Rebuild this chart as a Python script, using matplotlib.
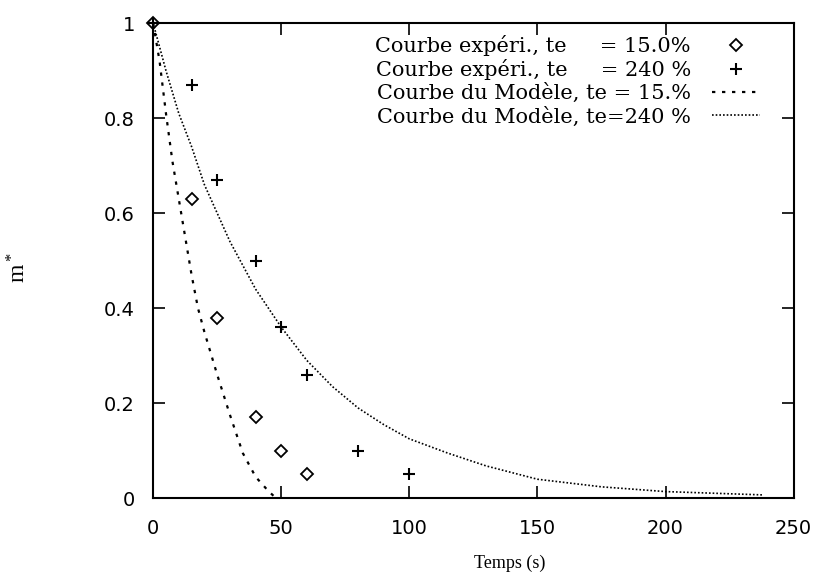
import matplotlib
matplotlib.use("Agg")
import matplotlib.pyplot as plt

t_exp_15 = [0, 15, 25, 40, 50, 60]
m_exp_15 = [1.0, 0.63, 0.38, 0.17, 0.10, 0.05]
t_exp_240 = [0, 15, 25, 40, 50, 60, 80, 100]
m_exp_240 = [1.0, 0.87, 0.67, 0.50, 0.36, 0.26, 0.10, 0.05]

# model curves, sampled by eye along the dotted traces
t_mod_15 = [0, 2.5, 5, 7.5, 10, 12.5, 15, 17.5, 20, 25, 30, 35, 40, 45, 48]
m_mod_15 = [1.0, 0.92, 0.81, 0.71, 0.63, 0.55, 0.47, 0.40, 0.35, 0.26, 0.175, 0.095, 0.045, 0.015, 0.0]
t_mod_240 = [0, 5, 10, 15, 20, 25, 30, 35, 40, 45, 50, 60, 70, 80, 90, 100,
             115, 130, 150, 175, 200, 238]
m_mod_240 = [1.0, 0.90, 0.81, 0.74, 0.66, 0.60, 0.54, 0.49, 0.44, 0.40, 0.36, 0.29,
             0.235, 0.19, 0.155, 0.125, 0.095, 0.068, 0.040, 0.024, 0.014, 0.007]

x_ticks = [0, 50, 100, 150, 200, 250]
y_ticks = [0, 0.2, 0.4, 0.6, 0.8, 1]
y_tick_labels = ["0", "0.2", "0.4", "0.6", "0.8", "1"]

labels = [
    "Courbe expéri., te     = 15.0%",
    "Courbe expéri., te     = 240 %",
    "Courbe du Modèle, te = 15.%",
    "Courbe du Modèle, te=240 %",
]

fig = plt.figure(figsize=(8.19, 5.78), dpi=100)
ax = fig.add_axes([0.187, 0.138, 0.782, 0.822])

ax.plot(t_exp_15, m_exp_15, linestyle="none", marker="D", markersize=6,
        markerfacecolor="none", markeredgecolor="black", markeredgewidth=1.3,
        clip_on=False, label=labels[0])
ax.plot(t_exp_240, m_exp_240, linestyle="none", marker="+", markersize=9,
        color="black", markeredgewidth=1.5, clip_on=False, label=labels[1])
ax.plot(t_mod_15, m_mod_15, color="black", linewidth=1.6,
        linestyle=(0, (1.5, 3)), label=labels[2])
ax.plot(t_mod_240, m_mod_240, color="black", linewidth=1.2,
        linestyle=(0, (1, 1.2)), label=labels[3])

ax.set_xlim(0, 250)
ax.set_ylim(0, 1)
ax.set_xticks(x_ticks)
ax.set_yticks(y_ticks)
ax.set_yticklabels(y_tick_labels)
ax.tick_params(direction="in", length=8.5, width=1.2, top=True, right=True,
               labelsize=14)
ax.tick_params(axis="y", pad=13)
ax.tick_params(axis="x", pad=15)
for lab in ax.get_xticklabels() + ax.get_yticklabels():
    lab.set_family("DejaVu Sans")
for sp in ax.spines.values():
    sp.set_linewidth(1.5)

ax.set_xlabel("Temps (s)", family="Liberation Serif", fontsize=13)
ax.xaxis.set_label_coords(0.557, -0.137)
ax.xaxis.label.set_va("center")
ax.set_ylabel(r"$\mathregular{m^*}$", family="Liberation Serif", fontsize=17)
ax.yaxis.set_label_coords(-0.21, 0.486)
ax.yaxis.label.set_va("center")

leg = ax.legend(loc="upper right", bbox_to_anchor=(0.947, 0.975), frameon=False,
                markerfirst=False, handlelength=2.3, handletextpad=1.0,
                labelspacing=0.15, borderpad=0, borderaxespad=0,
                prop={"family": "DejaVu Serif", "size": 15})

fig.savefig("out.png", dpi=100)
